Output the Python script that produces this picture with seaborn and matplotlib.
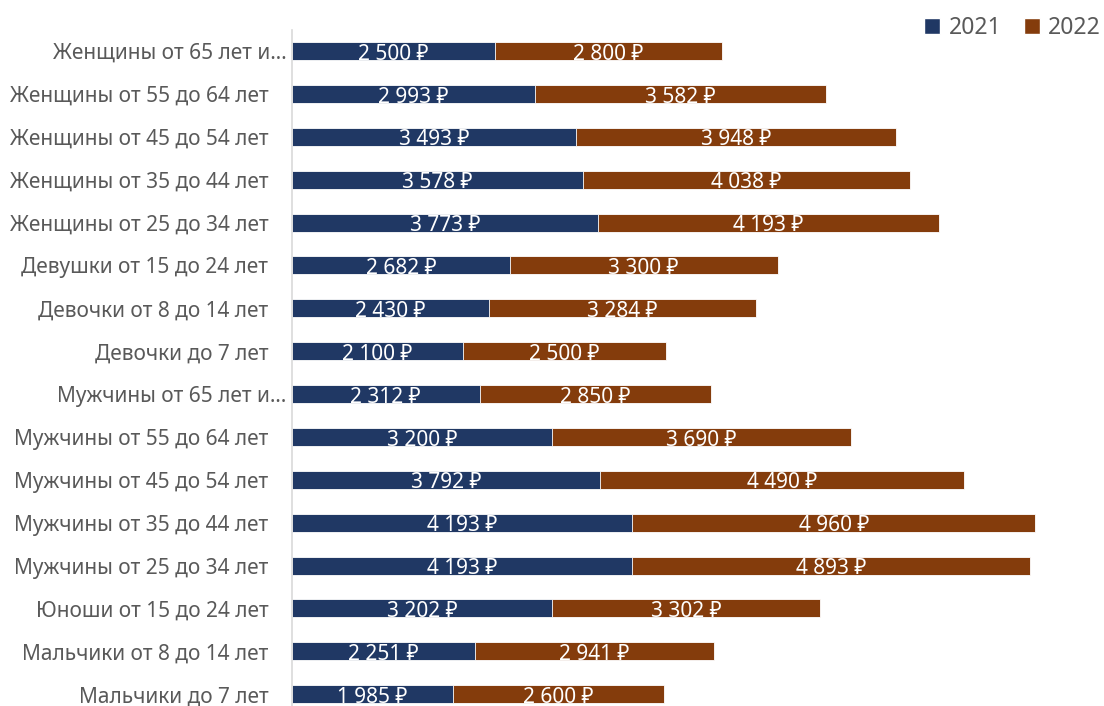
import matplotlib
matplotlib.use("Agg")
import matplotlib.pyplot as plt
from matplotlib.patches import Patch
from matplotlib.transforms import ScaledTranslation
import seaborn as sns
import pandas as pd

categories = [
    "Женщины от 65 лет и…",
    "Женщины от 55 до 64 лет",
    "Женщины от 45 до 54 лет",
    "Женщины от 35 до 44 лет",
    "Женщины от 25 до 34 лет",
    "Девушки от 15 до 24 лет",
    "Девочки от 8 до 14 лет",
    "Девочки до 7 лет",
    "Мужчины от 65 лет и…",
    "Мужчины от 55 до 64 лет",
    "Мужчины от 45 до 54 лет",
    "Мужчины от 35 до 44 лет",
    "Мужчины от 25 до 34 лет",
    "Юноши от 15 до 24 лет",
    "Мальчики от 8 до 14 лет",
    "Мальчики до 7 лет",
]
values_2021 = [2500, 2993, 3493, 3578, 3773, 2682, 2430, 2100,
               2312, 3200, 3792, 4193, 4193, 3202, 2251, 1985]
values_2022 = [2800, 3582, 3948, 4038, 4193, 3300, 3284, 2500,
               2850, 3690, 4490, 4960, 4893, 3302, 2941, 2600]
series_names = ["2021", "2022"]

BLUE = "#203864"
BROWN = "#843C0C"
GREY_TEXT = "#595959"
BAR_W = 0.42

sns.set_theme(style="white")
plt.rcParams["font.family"] = ["Noto Sans", "DejaVu Sans"]

df = pd.DataFrame({
    "category": categories,
    "y2021": values_2021,
    "y2022": values_2022,
})
df["total"] = df["y2021"] + df["y2022"]

fig = plt.figure(figsize=(11.04, 7.06), dpi=100)
ax = fig.add_axes([292 / 1104, 0.958 - 0.9717, 1 - 292 / 1104, 0.9717])

# stacked horizontal bars: full total in brown, 2021 share on top in blue
sns.barplot(data=df, y="category", x="total", orient="h", color=BROWN,
            saturation=1, width=BAR_W, ax=ax, edgecolor="white", linewidth=0.6)
sns.barplot(data=df, y="category", x="y2021", orient="h", color=BLUE,
            saturation=1, width=BAR_W, ax=ax, edgecolor="white", linewidth=0.6)

def fmt(v):
    return f"{v:,}".replace(",", " ") + " ₽"

# value labels sit on the bottom edge of each segment
for i, (a, b) in enumerate(zip(values_2021, values_2022)):
    base = i + BAR_W / 2 - 0.01
    ax.text(a / 2, base, fmt(a), ha="center", va="baseline",
            color="white", fontsize=15)
    ax.text(a + b / 2, base, fmt(b), ha="center", va="baseline",
            color="white", fontsize=15)

ax.set_xlim(0, 10000)
ax.set_ylim(len(categories) - 0.5, -0.5)
ax.set_xlabel("")
ax.set_ylabel("")
ax.set_xticks([])
ax.tick_params(axis="y", length=0, pad=17, labelsize=15, labelcolor=GREY_TEXT)

# shortened category names hug the axis more closely
shift = ScaledTranslation(0.18, 0, fig.dpi_scale_trans)
for lbl in ax.get_yticklabels():
    if lbl.get_text().endswith("…"):
        lbl.set_transform(lbl.get_transform() + shift)

for side in ["top", "right", "bottom"]:
    ax.spines[side].set_visible(False)
ax.spines["left"].set_color("#d9d9d9")
ax.spines["left"].set_linewidth(1.2)

handles = [Patch(facecolor=BLUE, label=series_names[0]),
           Patch(facecolor=BROWN, label=series_names[1])]
fig.legend(handles=handles, loc="upper right", bbox_to_anchor=(1.016, 1.006),
           ncol=2, frameon=False, fontsize=16.5, handlelength=0.7,
           handleheight=0.7, handletextpad=0.35, columnspacing=1.0,
           labelcolor=GREY_TEXT)

fig.savefig("out.png", dpi=100)
